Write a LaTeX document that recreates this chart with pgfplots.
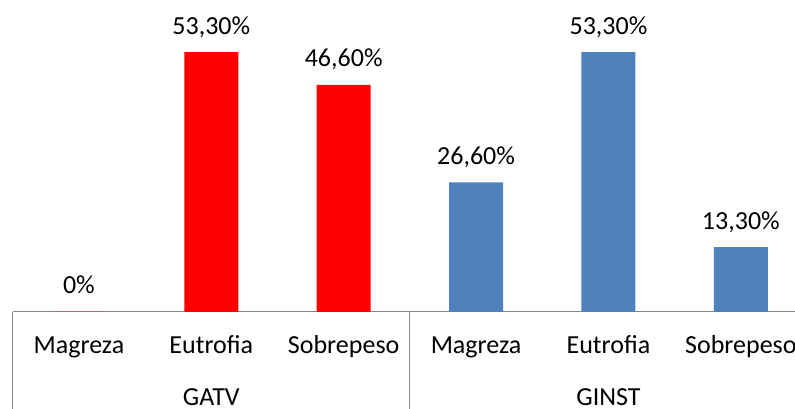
\documentclass[border=0pt]{standalone}
\usepackage{fontspec}
\setmainfont{Carlito}
\usepackage{pgfplots}
\pgfplotsset{compat=1.18}
\definecolor{barred}{HTML}{FF0000}
\definecolor{barblue}{HTML}{4F81BD}
\definecolor{axgray}{HTML}{868686}
\begin{document}
\begin{tikzpicture}[x=1pt,y=1pt]
\useasboundingbox (0,0) rectangle (795,409);
\begin{axis}[
  at={(12.7pt,97pt)}, anchor=south west,
  scale only axis, width=782.3pt, height=312pt,
  xmin=-0.5, xmax=5.409, ymin=0, ymax=64,
  axis x line*=bottom, axis y line=none,
  x axis line style={-, draw=axgray, line width=1pt},
  xtick={0,1,2,3,4,5},
  xticklabels={Magreza,Eutrofia,Sobrepeso,Magreza,Eutrofia,Sobrepeso},
  major tick length=0pt,
  xticklabel style={anchor=base, yshift=-42pt, font=\fontsize{26}{30}\selectfont, text=black},
  ybar, bar width=54pt,
  point meta=explicit symbolic,
  nodes near coords,
  nodes near coords style={anchor=base, yshift=18pt, font=\fontsize{26}{30}\selectfont, text=black},
  clip=false,
]
\addplot[draw=none, fill=barred, bar shift=0pt] coordinates {
  (0,0) [0\%]
  (1,53.3) [53,30\%]
  (2,46.6) [46,60\%]
};
\addplot[draw=none, fill=barblue, bar shift=0pt] coordinates {
  (3,26.6) [26,60\%]
  (4,53.3) [53,30\%]
  (5,13.3) [13,30\%]
};
\draw[axgray, line width=1pt] (axis cs:-0.5,0) -- ([yshift=-97pt]axis cs:-0.5,0);
\draw[axgray, line width=1pt] (axis cs:2.5,0) -- ([yshift=-97pt]axis cs:2.5,0);
\node[anchor=base, yshift=-93.5pt, font=\fontsize{26}{30}\selectfont] at (axis cs:1,0) {GATV};
\node[anchor=base, yshift=-93.5pt, font=\fontsize{26}{30}\selectfont] at (axis cs:4,0) {GINST};
\end{axis}
\end{tikzpicture}
\end{document}
